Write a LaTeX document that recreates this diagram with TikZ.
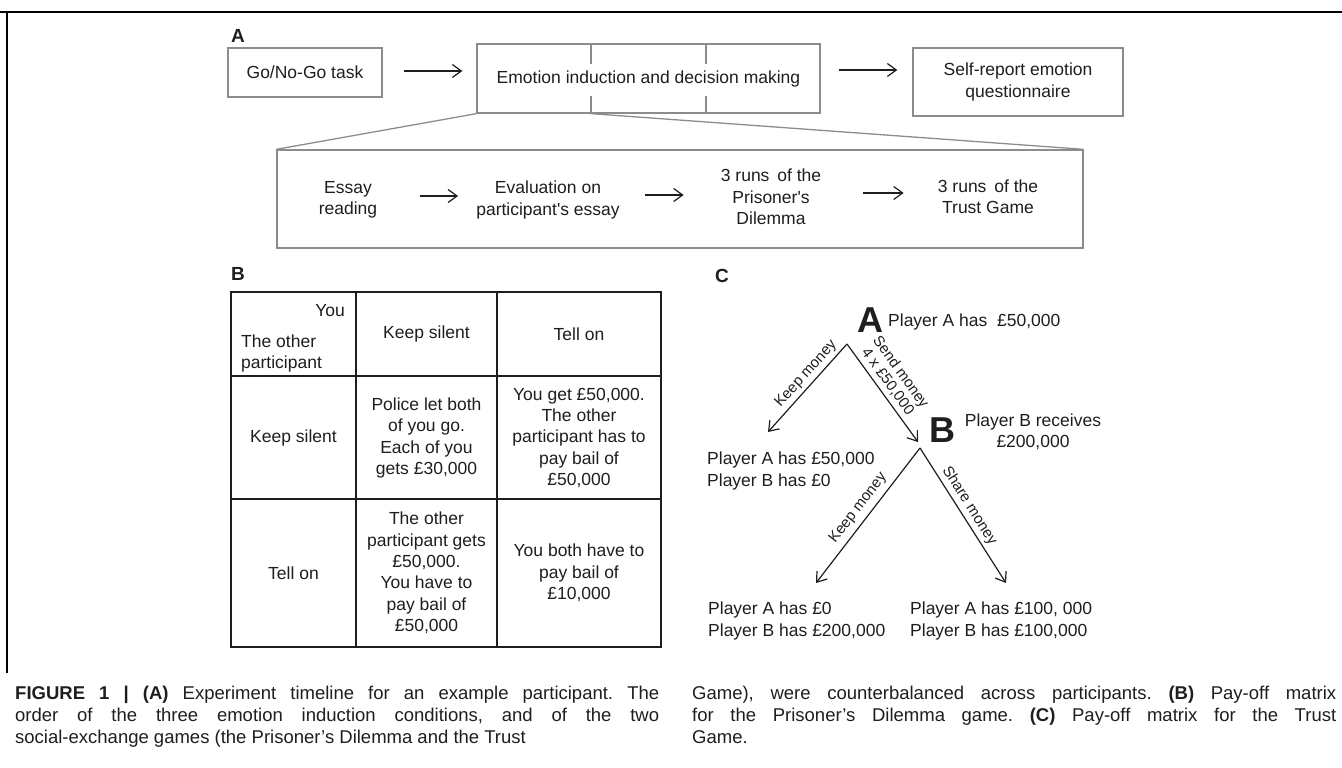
\documentclass[tikz,border=0pt]{standalone}
\usepackage{fontspec}
\setmainfont{Liberation Sans}
\usetikzlibrary{arrows.meta,calc}
\definecolor{framegray}{HTML}{8C8C8C}
\definecolor{inkgray}{HTML}{1E1E1E}
\newcommand{\fsz}[2]{\fontsize{#1}{#2}\selectfont}

\begin{document}
\frenchspacing
\begin{tikzpicture}
	[x=1pt,y=-1pt,
	every node/.style={inner sep=0pt,text=inkgray,font=\fsz{17.5}{21.3}},
	panel/.style={font=\bfseries\fsz{19}{20}},
	stage/.style={draw=framegray,line width=1.3pt,align=center},
	flow/.style={draw=inkgray,line width=1.2pt,-{Straight Barb[length=9pt,width=13pt]}},
	cell/.style={align=center},
	grid/.style={draw=inkgray,line width=1.8pt},
	payoff/.style={align=left,anchor=west},
	bigletter/.style={font=\bfseries\fsz{36}{36}},
	move/.style={font=\fsz{15}{16},sloped,align=center},
	caption/.style={text width=644pt,align=justify,font=\fsz{18.5}{22},anchor=north west}]

	\useasboundingbox (0,0) rectangle (1342,768);
	\draw[line width=2.5pt] (0,12) -- (1342,12);
	\draw[line width=2.5pt] (7,12) -- (7,673);

	% A
	\node[panel] (labelA) at (238,36) {A};
	\node[stage,minimum width=154pt,minimum height=49pt] (gonogo) at (305,72.5) {Go/No-Go task};
	\node[stage,minimum width=343pt,minimum height=69pt] (emotion) at (648.5,78.5) {Emotion induction and decision making};
	\node[stage,minimum width=210pt,minimum height=68pt] (selfreport) at (1018,82) {Self-report emotion\\questionnaire};
	\foreach \k in {1,2}
		\draw[framegray,line width=1.3pt]
			($(emotion.north west)!\k/3!(emotion.north east)$) -- ++(0,21)
			($(emotion.south west)!\k/3!(emotion.south east)$) -- ++(0,-18);
	\draw[flow,shorten <=21pt,shorten >=14pt] ([yshift=1.5pt]gonogo.east) -- ([yshift=1.5pt]gonogo.east -| emotion.west);
	\draw[flow,shorten <=18pt,shorten >=15pt] ([yshift=8.5pt]emotion.east) -- ([yshift=8.5pt]emotion.east -| selfreport.west);

	\node[stage,minimum width=806pt,minimum height=98pt] (sequence) at (680,199) {};
	\draw[framegray,line width=1.3pt] (emotion.south west) -- (sequence.north west)
		($(emotion.south west)!1/3!(emotion.south east)$) -- (sequence.north east);
	\node[cell] (essay) at (348,200) {Essay\\reading};
	\node[cell] (evaluation) at (548,200) {Evaluation on\\participant\textquotesingle s essay};
	\node[cell] (prisoner) at (771,197) {3 runs\hspace{3pt} of the\\Prisoner\textquotesingle s\\Dilemma};
	\node[cell] (trust) at (988,197) {3 runs\hspace{3pt} of the\\Trust Game};
	\draw[flow,shorten <=43pt,shorten >=18pt] ([yshift=4pt]essay.east) -- ([yshift=4pt]essay.east -| evaluation.west);
	\draw[flow,shorten <=25pt,shorten >=37pt] ([yshift=5pt]evaluation.east) -- ([yshift=5pt]evaluation.east -| prisoner.west);
	\draw[flow,shorten <=42pt,shorten >=34pt] ([yshift=4pt]prisoner.east) -- ([yshift=4pt]prisoner.east -| trust.west);

	% B
	\node[panel] (labelB) at (238,274) {B};
	\draw[grid] (231,292) rectangle (661,647);
	\foreach \x in {356,497}
		\draw[grid] (\x,292) -- (\x,647);
	\foreach \y in {376,499}
		\draw[grid] (231,\y) -- (661,\y);
	\node[anchor=east] (you) at (345,311) {You};
	\node[anchor=west,align=left] (other) at (241,353.5) {The other\\participant};
	\node[cell] (headsilent) at (426.5,334) {Keep silent};
	\node[cell] (headtell) at (579,334) {Tell on};
	\node[cell] (rowsilent) at (293.5,438) {Keep silent};
	\node[cell] (silentsilent) at (426.5,438) {Police let both\\of you go.\\Each of you\\gets £30,000};
	\node[cell] (silenttell) at (579,438) {You get £50,000.\\The other\\participant has to\\pay bail of\\£50,000};
	\node[cell] (rowtell) at (293.5,573) {Tell on};
	\node[cell] (tellsilent) at (426.5,573) {The other\\participant gets\\£50,000.\\You have to\\pay bail of\\£50,000};
	\node[cell] (telltell) at (579,573) {You both have to\\pay bail of\\£10,000};

	% C
	\node[panel] (labelC) at (722,276) {C};
	\node[bigletter] (playerA) at (870,320) {A};
	\node[anchor=base west] (hasA) at (888,326) {Player A has~ £50,000};
	\coordinate (forkA) at (847,344);
	\coordinate (keepA) at (768,432);
	\coordinate (sendA) at (918,442);
	\node[bigletter] (playerB) at (942,430) {B};
	\node[cell] (receivesB) at (1033,431.5) {Player B receives\\£200,000};
	\coordinate (forkB) at (920,448);
	\coordinate (keepB) at (816,583);
	\coordinate (shareB) at (1006,583);
	\draw[flow] (forkA) -- node[move,pos=0.42,above=3pt] {Keep money} (keepA);
	\draw[flow] (forkA) -- node[move,pos=0.45,above=4pt] {Send money\\4 x £50,000} (sendA);
	\draw[flow] (forkB) -- node[move,pos=0.5,above=5pt] {Keep money} (keepB);
	\draw[flow] (forkB) -- node[move,pos=0.47,above=3pt] {Share money} (shareB);
	\node[payoff] (outKeepA) at (707,471) {Player A has £50,000\\Player B has £0};
	\node[payoff] (outKeepB) at (708,621) {Player A has £0\\Player B has £200,000};
	\node[payoff] (outShareB) at (910,621) {Player A has £100, 000\\Player B has £100,000};

	% caption
	\node[caption] (captionleft) at (15,686) {\textbf{FIGURE 1 | (A)} Experiment timeline for an example participant. The\linebreak order of the three emotion induction conditions, and of the two\linebreak social-exchange games (the Prisoner’s Dilemma and the Trust};
	\node[caption] (captionright) at (692,686) {Game), were counterbalanced across participants. \textbf{(B)} Pay-off matrix\linebreak for the Prisoner’s Dilemma game. \textbf{(C)} Pay-off matrix for the Trust\linebreak Game.};
\end{tikzpicture}
\end{document}
